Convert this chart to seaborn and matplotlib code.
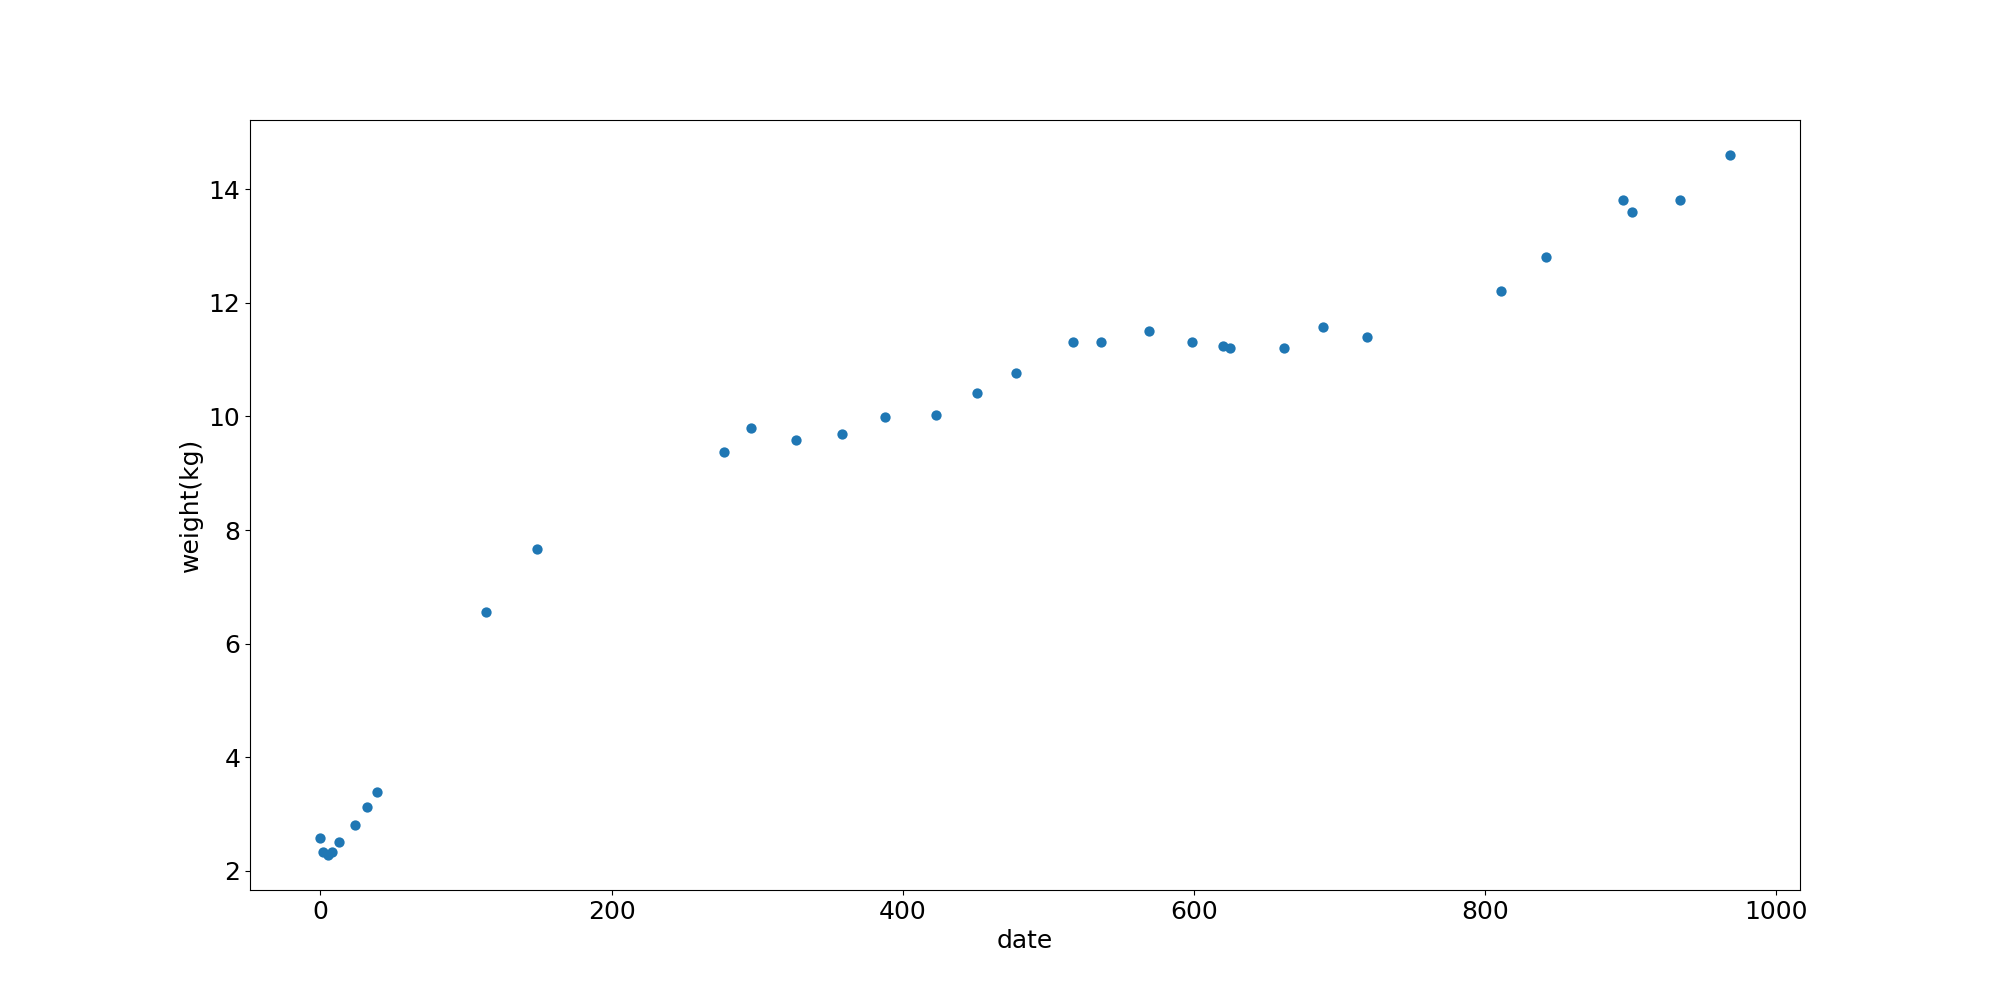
import matplotlib
matplotlib.use('Agg')
import matplotlib.pyplot as plt
import pandas as pd
import seaborn as sns

# days since first measurement / weight in kg
date = [0, 2, 5, 8, 13, 24, 32, 39, 114, 149, 277, 296, 327, 358, 388, 423,
        451, 478, 517, 536, 569, 599, 620, 625, 662, 689, 719, 811, 842, 895,
        901, 934, 968]
weight = [2.58, 2.34, 2.28, 2.33, 2.51, 2.8, 3.13, 3.39, 6.55, 7.66, 9.38, 9.8,
          9.58, 9.69, 9.99, 10.03, 10.41, 10.76, 11.3, 11.3, 11.5, 11.3, 11.24,
          11.21, 11.21, 11.58, 11.4, 12.21, 12.81, 13.8, 13.6, 13.8, 14.6]

df = pd.DataFrame({'date': date, 'weight': weight})

plt.rcParams['font.family'] = ['DejaVu Sans']
fig, ax = plt.subplots(figsize=(20, 10), dpi=100)

sns.scatterplot(data=df, x='date', y='weight', ax=ax,
                color='#1f77b4', s=55, linewidth=0)

ax.set_xlabel('date', fontsize=18)
ax.set_ylabel('weight(kg)', fontsize=18)
ax.tick_params(axis='both', labelsize=18)

plt.savefig('out.png', dpi=100)
plt.close()
